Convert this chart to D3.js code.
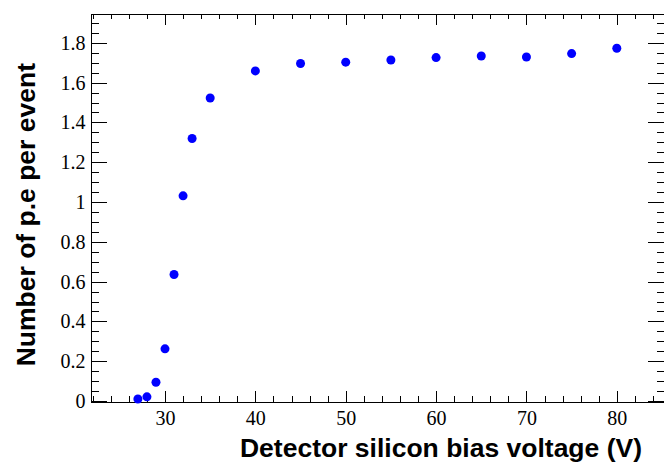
<!DOCTYPE html>
<html>
<head>
<meta charset="utf-8">
<script src="https://cdn.jsdelivr.net/npm/d3@7"></script>
<style>
  html, body { margin: 0; padding: 0; background: #fff; }
  svg { display: block; }
  .axis path, .axis line { stroke: #000; stroke-width: 1; shape-rendering: crispEdges; }
  .title { font-family: "Liberation Sans", Arial, sans-serif; font-weight: bold; font-size: 26.5px; fill: #000; }
</style>
</head>
<body>
<svg id="chart" width="664" height="462"></svg>
<script>
// Bias voltage scan: mean photo-electrons per event
const voltages = [27, 28, 29, 30, 31, 32, 33, 35, 40, 45, 50, 55, 60, 65, 70, 75, 80];
const peCounts = [0.010, 0.021, 0.094, 0.262, 0.636, 1.031, 1.319, 1.523, 1.659, 1.696, 1.703, 1.714, 1.726, 1.734, 1.729, 1.746, 1.773];

const xMajorTicks = [30, 40, 50, 60, 70, 80];
const xMinorTicks = [22, 24, 26, 28, 32, 34, 36, 38, 42, 44, 46, 48, 52, 54, 56, 58, 62, 64, 66, 68, 72, 74, 76, 78, 82, 84];
const yMajorTicks = [0, 0.2, 0.4, 0.6, 0.8, 1, 1.2, 1.4, 1.6, 1.8];
const yMinorTicks = [0.05, 0.1, 0.15, 0.25, 0.3, 0.35, 0.45, 0.5, 0.55, 0.65, 0.7, 0.75, 0.85, 0.9, 0.95,
                     1.05, 1.1, 1.15, 1.25, 1.3, 1.35, 1.45, 1.5, 1.55, 1.65, 1.7, 1.75, 1.85, 1.9];

const xTitle = "Detector silicon bias voltage (V)";
const yTitle = "Number of p.e per event";

const frame = { left: 90, right: 664.7, top: 13, bottom: 401 };

const x = d3.scaleLinear().domain([21.7, 85.3]).range([frame.left, frame.right]);
const y = d3.scaleLinear().domain([0, 1.95]).range([frame.bottom, frame.top]);

const svg = d3.select("#chart");

const fmt = d => String(d);
const serifLabels = g => g.selectAll(".tick text")
  .style("font-family", "'Liberation Serif', 'DejaVu Serif', serif")
  .style("font-size", "20px")
  .style("fill", "#000");

// bottom axis with labels, ticks pointing into the frame
svg.append("g").attr("class", "axis")
  .attr("transform", `translate(0,${frame.bottom + 0.5})`)
  .call(d3.axisBottom(x).tickValues(xMajorTicks).tickFormat(fmt)
    .tickSizeInner(-11).tickSizeOuter(0).tickPadding(9))
  .call(serifLabels);
svg.append("g").attr("class", "axis")
  .attr("transform", `translate(0,${frame.bottom + 0.5})`)
  .call(d3.axisBottom(x).tickValues(xMinorTicks).tickFormat("")
    .tickSizeInner(-5.5).tickSizeOuter(0))
  .call(g => g.select(".domain").remove());

// top axis mirrors the bottom ticks
svg.append("g").attr("class", "axis")
  .attr("transform", `translate(0,${frame.top + 0.5})`)
  .call(d3.axisTop(x).tickValues(xMajorTicks).tickFormat("")
    .tickSizeInner(-11).tickSizeOuter(0));
svg.append("g").attr("class", "axis")
  .attr("transform", `translate(0,${frame.top + 0.5})`)
  .call(d3.axisTop(x).tickValues(xMinorTicks).tickFormat("")
    .tickSizeInner(-5.5).tickSizeOuter(0))
  .call(g => g.select(".domain").remove());

// left axis with labels
svg.append("g").attr("class", "axis")
  .attr("transform", `translate(${frame.left + 0.5},0)`)
  .call(d3.axisLeft(y).tickValues(yMajorTicks).tickFormat(fmt)
    .tickSizeInner(-16.5).tickSizeOuter(0).tickPadding(5))
  .call(serifLabels);
svg.append("g").attr("class", "axis")
  .attr("transform", `translate(${frame.left + 0.5},0)`)
  .call(d3.axisLeft(y).tickValues(yMinorTicks).tickFormat("")
    .tickSizeInner(-8).tickSizeOuter(0))
  .call(g => g.select(".domain").remove());

// right axis mirrors the left ticks
svg.append("g").attr("class", "axis")
  .attr("transform", `translate(${frame.right},0)`)
  .call(d3.axisRight(y).tickValues(yMajorTicks).tickFormat("")
    .tickSizeInner(-16.5).tickSizeOuter(0));
svg.append("g").attr("class", "axis")
  .attr("transform", `translate(${frame.right},0)`)
  .call(d3.axisRight(y).tickValues(yMinorTicks).tickFormat("")
    .tickSizeInner(-8).tickSizeOuter(0))
  .call(g => g.select(".domain").remove());

// data points
svg.append("g")
  .selectAll("circle")
  .data(voltages.map((v, i) => [v, peCounts[i]]))
  .join("circle")
  .attr("cx", d => x(d[0]))
  .attr("cy", d => y(d[1]))
  .attr("r", 4.5)
  .attr("fill", "#0000ff");

// axis titles
svg.append("text").attr("class", "title")
  .attr("x", 642).attr("y", 457)
  .attr("text-anchor", "end")
  .text(xTitle);

svg.append("text").attr("class", "title")
  .attr("transform", "translate(35,63) rotate(-90)")
  .attr("text-anchor", "end")
  .text(yTitle);
</script>
</body>
</html>
